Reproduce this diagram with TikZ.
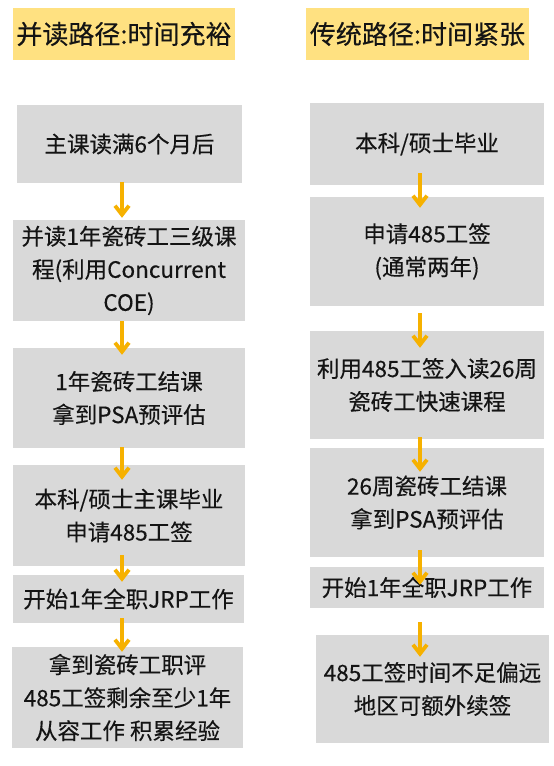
\documentclass[tikz,border=0pt]{standalone}
\usepackage{fontspec}
\newfontfamily\cjk[FakeBold=0.3]{Noto Sans CJK SC}
\usetikzlibrary{arrows.meta,calc}
\definecolor{hdr}{HTML}{FFE181}
\definecolor{boxgray}{HTML}{D9D9D9}
\definecolor{arrorange}{HTML}{F6B100}
\definecolor{txt}{HTML}{141414}
\tikzset{
  header/.style={fill=hdr, inner sep=0pt, text=txt, font=\cjk\fontsize{26}{30}\selectfont},
  stepbox/.style={fill=boxgray, inner sep=0pt, align=center, text=txt, font=\cjk\fontsize{22.5}{33}\selectfont},
  flowarrow/.style={draw=arrorange, line width=3.8pt, -{Straight Barb[length=9pt,width=14pt,line width=3.8pt]}}
}
\begin{document}
\begin{tikzpicture}[x=1pt,y=-1pt]
\useasboundingbox (0,0) rectangle (554,766);
\fill[white] (0,0) rectangle (554,766);
% headers
\node[header, minimum width=222pt, minimum height=52pt] (hl) at (124,34) {并读路径:时间充裕};
\node[header, minimum width=223pt, minimum height=52pt] (hr) at (417.5,34) {传统路径:时间紧张};
% left column
\node[stepbox, minimum width=225pt, minimum height=78pt] (l1) at (129.5,144) {主课读满6个月后};
\node[stepbox, minimum width=232pt, minimum height=101pt] (l2) at (129,270.5) {并读1年瓷砖工三级课\\程(利用Concurrent\\COE)};
\node[stepbox, minimum width=232pt, minimum height=100pt] (l3) at (129,398) {1年瓷砖工结课\\拿到PSA预评估};
\node[stepbox, minimum width=232pt, minimum height=101pt] (l4) at (129,515.5) {本科/硕士主课毕业\\申请485工签};
\node[stepbox, minimum width=231pt, minimum height=48pt] (l5) at (128.5,599) {开始1年全职JRP工作};
\node[stepbox, minimum width=231pt, minimum height=101pt] (l6) at (127.5,697.5) {拿到瓷砖工职评\\485工签剩余至少1年\\从容工作 积累经验};
% right column
\node[stepbox, minimum width=234pt, minimum height=82pt] (r1) at (427,144) {本科/硕士毕业};
\node[stepbox, minimum width=234pt, minimum height=109pt] (r2) at (427,251.5) {申请485工签\\(通常两年)};
\node[stepbox, minimum width=234pt, minimum height=108pt] (r3) at (427,385) {利用485工签入读26周\\瓷砖工快速课程};
\node[stepbox, minimum width=234pt, minimum height=109pt] (r4) at (427,502.5) {26周瓷砖工结课\\拿到PSA预评估};
\node[stepbox, minimum width=234pt, minimum height=41pt] (r5) at (427,587.5) {开始1年全职JRP工作};
\node[stepbox, minimum width=233pt, minimum height=108pt] (r6) at (432.5,689) {485工签时间不足偏远\\地区可额外续签};
% arrow axes
\coordinate (axl) at (122,0);
\coordinate (axr) at (420,0);
% left arrows
\draw[flowarrow] ($(l1.south -| axl)+(0,-1)$) -- ($(l2.north -| axl)+(0,-2)$);
\draw[flowarrow] ($(l2.south -| axl)+(0,0)$) -- ($(l3.north -| axl)+(0,7)$);
\draw[flowarrow] ($(l3.south -| axl)+(0,-1)$) -- ($(l4.north -| axl)+(0,15)$);
\draw[flowarrow] ($(l4.south -| axl)+(0,-11)$) -- ($(l5.north -| axl)+(0,7)$);
\draw[flowarrow] ($(l5.south -| axl)+(0,-5)$) -- ($(l6.north -| axl)+(0,5)$);
% right arrows
\draw[flowarrow] ($(r1.south -| axr)+(0,-12)$) -- ($(r2.north -| axr)+(0,11)$);
\draw[flowarrow] ($(r2.south -| axr)+(0,7)$) -- ($(r3.north -| axr)+(0,17)$);
\draw[flowarrow] ($(r3.south -| axr)+(0,-2)$) -- ($(r4.north -| axr)+(0,24)$);
\draw[flowarrow] ($(r4.south -| axr)+(0,-7)$) -- ($(r5.north -| axr)+(0,18)$);
\draw[flowarrow] ($(r5.south -| axr)+(0,14)$) -- ($(r6.north -| axr)+(0,22)$);
\end{tikzpicture}
\end{document}
